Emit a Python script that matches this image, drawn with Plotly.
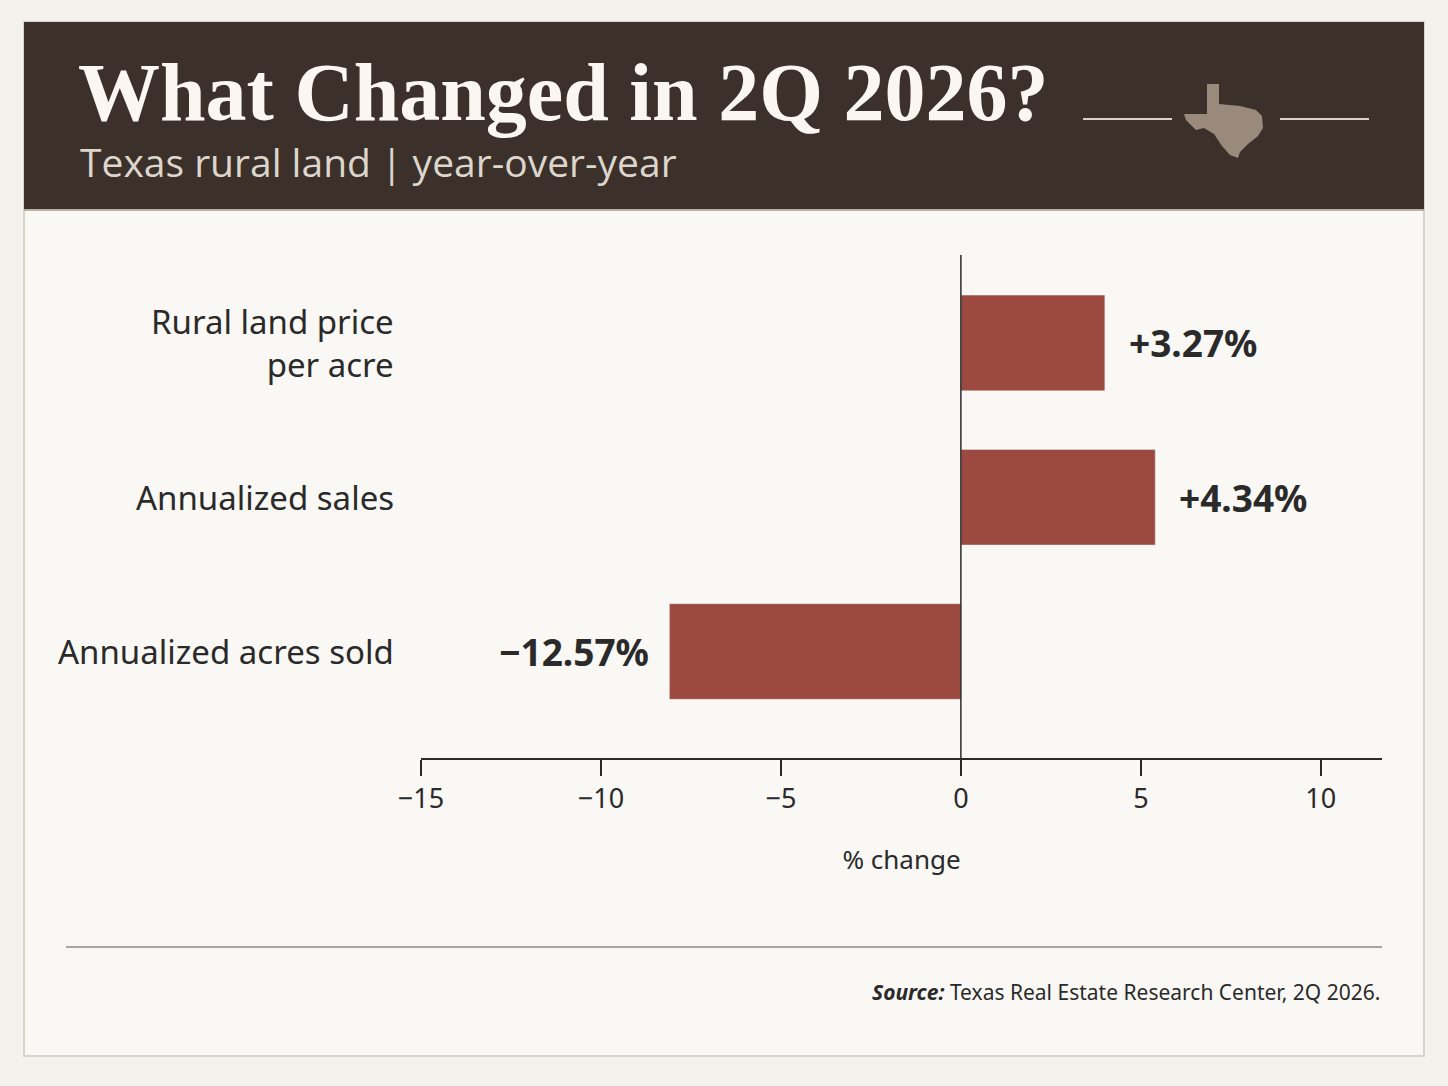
import plotly.graph_objects as go

categories = ["Rural land price<br>per acre", "Annualized sales", "Annualized acres sold"]
# bar lengths as drawn in the reference picture
bar_values = [4.0, 5.4, -8.1]
value_labels = ["+3.27%", "+4.34%", "−12.57%"]
tick_vals = [-15, -10, -5, 0, 5, 10]
tick_text = ["−15", "−10", "−5", "0", "5", "10"]

W, H = 1448, 1086
def px(x): return x / W
def py(y): return 1 - y / H

BAR = "#9c4a40"
INK = "#2a2a2a"

fig = go.Figure()
ypos = list(range(len(categories)))
fig.add_trace(go.Bar(x=bar_values, y=ypos, orientation="h", marker_color=BAR, width=0.62,
                     hoverinfo="skip"))

x0p, x1p, y0p, y1p = 421, 1382, 255, 758
fig.update_layout(
    width=W, height=H, margin=dict(l=0, r=0, t=0, b=0, autoexpand=False),
    paper_bgcolor="#f4f2ed", plot_bgcolor="rgba(0,0,0,0)", showlegend=False,
    xaxis=dict(domain=[px(x0p), px(x1p)], range=[-15, 11.7], tickvals=tick_vals, ticktext=tick_text,
               automargin=False,
               showgrid=False, zeroline=False, showline=True, linecolor=INK, linewidth=1.5,
               ticks="outside", ticklen=16, tickcolor=INK, tickwidth=1.5,
               tickfont=dict(family="Noto Sans", size=27, color=INK),
               title=dict(text="% change", font=dict(family="Noto Sans", size=26, color=INK), standoff=36)),
    yaxis=dict(domain=[py(y1p), py(y0p)], range=[2.69, -0.57], showticklabels=False, automargin=False,
               showgrid=False, zeroline=False, showline=False),
)

shapes = [
    dict(type="rect", xref="paper", yref="paper", x0=px(24), x1=px(1424), y0=py(1056), y1=py(22),
         fillcolor="#faf8f4", line=dict(color="#d8d4cc", width=2), layer="below"),
    dict(type="rect", xref="paper", yref="paper", x0=px(24), x1=px(1424), y0=py(210), y1=py(22),
         fillcolor="#3b302a", line=dict(width=0), layer="below"),
    dict(type="line", xref="paper", yref="paper", x0=px(24), x1=px(1424), y0=py(210), y1=py(210),
         line=dict(color="#b9b0a6", width=2)),
    dict(type="line", xref="paper", yref="paper", x0=px(1083), x1=px(1172), y0=py(119), y1=py(119),
         line=dict(color="#d9d2c8", width=2)),
    dict(type="line", xref="paper", yref="paper", x0=px(1280), x1=px(1369), y0=py(119), y1=py(119),
         line=dict(color="#d9d2c8", width=2)),
    dict(type="line", xref="x", yref="paper", x0=0, x1=0, y0=py(y1p), y1=py(y0p),
         line=dict(color=INK, width=1.5)),
    dict(type="line", xref="paper", yref="paper", x0=px(66), x1=px(1382), y0=py(947), y1=py(947),
         line=dict(color="#555", width=1.2)),
]
tx = [(1207,84),(1219,84),(1219,104),(1240,106),(1256,110),(1262,116),(1263,128),(1258,136),
      (1248,144),(1240,152),(1238,158),(1230,155),(1222,146),(1214,134),(1204,128),(1196,130),
      (1186,120),(1184,114),(1207,114)]
path = "M " + " L ".join(f"{px(a)},{py(b)}" for a, b in tx) + " Z"
shapes.append(dict(type="path", xref="paper", yref="paper", path=path,
                   fillcolor="#9a8a7c", line=dict(width=0)))
fig.update_layout(shapes=shapes)

ann = [
    dict(text="What Changed in 2Q 2026?", x=px(76), y=py(92), xanchor="left", yanchor="middle",
         font=dict(family="Liberation Serif", size=82, color="#fbf7f0", weight="bold")),
    dict(text="Texas rural land | year-over-year", x=px(78), y=py(162), xanchor="left", yanchor="middle",
         font=dict(family="Open Sans", size=39, color="#ddd6cc")),
    dict(text="<b><i>Source:</i></b> Texas Real Estate Research Center, 2Q 2026.", x=px(1382), y=py(992),
         xanchor="right", yanchor="middle", font=dict(family="Noto Sans", size=21, color=INK)),
]
for i, (c, v, lab) in enumerate(zip(categories, bar_values, value_labels)):
    ann.append(dict(text=c, xref="paper", yref="y", x=px(396), y=i, xanchor="right", yanchor="middle",
                    align="right", font=dict(family="Noto Sans", size=33, color=INK)))
    ann.append(dict(text=f"<b>{lab}</b>", xref="x", yref="y", x=v, y=i,
                    xanchor="left" if v > 0 else "right", xshift=22 if v > 0 else -18, yanchor="middle",
                    font=dict(family="Noto Sans", size=37, color=INK)))
for a in ann:
    a.setdefault("xref", "paper"); a.setdefault("yref", "paper"); a["showarrow"] = False
fig.update_layout(annotations=ann)

fig.write_html("out.html", config={"displayModeBar": False})
with open("out.html", encoding="utf-8") as f:
    html = f.read()
html = html.replace("<head>", "<head><style>html,body{margin:0;padding:0;overflow:hidden;}</style>", 1)
with open("out.html", "w", encoding="utf-8") as f:
    f.write(html)
